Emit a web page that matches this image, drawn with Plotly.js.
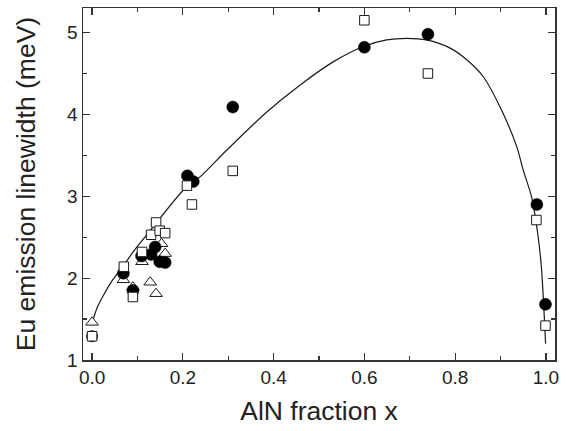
<!DOCTYPE html>
<html>
<head>
<meta charset="utf-8">
<script src="https://cdn.plot.ly/plotly-3.0.1.min.js"></script>
<style>
  html, body { margin: 0; padding: 0; background: #fff; }
  #chart { width: 567px; height: 431px; }
</style>
</head>
<body>
<div id="chart"></div>
<script>
// Eu emission linewidth versus AlN fraction x in AlGaN

// Filled circles
const circleX = [0.069, 0.090, 0.109, 0.130, 0.139, 0.149, 0.161, 0.210, 0.223, 0.310, 0.600, 0.740, 0.980, 0.999];
const circleY = [2.06, 1.85, 2.27, 2.29, 2.38, 2.20, 2.19, 3.25, 3.18, 4.09, 4.82, 4.98, 2.90, 1.68];

// Open squares
const squareX = [0.000, 0.070, 0.090, 0.110, 0.130, 0.141, 0.149, 0.161, 0.209, 0.220, 0.310, 0.600, 0.740, 0.979, 0.999];
const squareY = [1.29, 2.14, 1.77, 2.32, 2.53, 2.68, 2.58, 2.55, 3.13, 2.90, 3.31, 5.15, 4.50, 2.71, 1.42];

// Open triangles
const triangleX = [0.000, 0.069, 0.090, 0.110, 0.128, 0.141, 0.153, 0.161];
const triangleY = [1.46, 1.98, 1.89, 2.20, 1.95, 1.81, 2.42, 2.30];

// Open circle
const openCircleX = [0.000];
const openCircleY = [1.29];

// Guide curve through the data
const fitX = [0.000, 0.012, 0.027, 0.045, 0.070, 0.093, 0.128, 0.202, 0.2385, 0.297, 0.385, 0.4585, 0.532, 0.598, 0.649, 0.693, 0.737, 0.789, 0.825, 0.862, 0.899, 0.9355, 0.950, 0.9685, 0.983, 0.9905, 0.9956, 0.9993];
const fitY = [1.45, 1.65, 1.81, 1.975, 2.16, 2.34, 2.58, 3.08, 3.24, 3.565, 4.03, 4.36, 4.645, 4.83, 4.91, 4.93, 4.91, 4.81, 4.67, 4.46, 4.09, 3.61, 3.32, 2.99, 2.50, 2.10, 1.61, 1.20];

const ink = '#1a1a1a';
const axisInk = '#333333';
const font = 'Liberation Sans, Arial, Helvetica, sans-serif';

const traces = [
  {
    x: fitX, y: fitY, type: 'scatter', mode: 'lines',
    line: { color: ink, width: 1.2, shape: 'spline', smoothing: 0.8 },
    hoverinfo: 'skip'
  },
  {
    x: triangleX, y: triangleY, type: 'scatter', mode: 'markers',
    marker: { symbol: 'triangle-up', size: 11, color: '#ffffff', line: { color: ink, width: 1 } }
  },
  {
    x: openCircleX, y: openCircleY, type: 'scatter', mode: 'markers',
    marker: { symbol: 'circle', size: 11, color: '#ffffff', line: { color: ink, width: 1 } }
  },
  {
    x: circleX, y: circleY, type: 'scatter', mode: 'markers',
    marker: { symbol: 'circle', size: 12, color: '#000000', line: { color: '#000000', width: 0.5 } }
  },
  {
    x: squareX, y: squareY, type: 'scatter', mode: 'markers',
    marker: { symbol: 'square', size: 9.5, color: '#ffffff', line: { color: ink, width: 1 } }
  }
];

const axisCommon = {
  showgrid: false,
  zeroline: false,
  showline: true,
  linecolor: axisInk,
  linewidth: 1.5,
  mirror: 'ticks',
  ticks: 'inside',
  ticklen: 7,
  tickwidth: 1.2,
  tickcolor: axisInk,
  tickfont: { family: font, size: 19, color: '#222222' }
};

const layout = {
  width: 567,
  height: 431,
  margin: { l: 83, r: 12, t: 8, b: 71 },
  paper_bgcolor: '#ffffff',
  plot_bgcolor: '#ffffff',
  showlegend: false,
  xaxis: Object.assign({}, axisCommon, {
    range: [-0.02, 1.02],
    dtick: 0.2,
    tick0: 0,
    tickformat: '.1f',
    minor: { dtick: 0.1, tick0: 0, ticks: 'inside', ticklen: 4, tickwidth: 1.2, tickcolor: axisInk },
    title: { text: 'AlN fraction x', font: { family: font, size: 26.5, color: '#222222' }, standoff: 14 }
  }),
  yaxis: Object.assign({}, axisCommon, {
    range: [1, 5.30],
    dtick: 1,
    tick0: 0,
    minor: { dtick: 0.5, tick0: 0, ticks: 'inside', ticklen: 4, tickwidth: 1.2, tickcolor: axisInk },
    title: { text: 'Eu emission linewidth (meV)', font: { family: font, size: 26.5, color: '#222222' }, standoff: 24 }
  })
};

Plotly.newPlot('chart', traces, layout, { displayModeBar: false, staticPlot: true });
</script>
</body>
</html>
